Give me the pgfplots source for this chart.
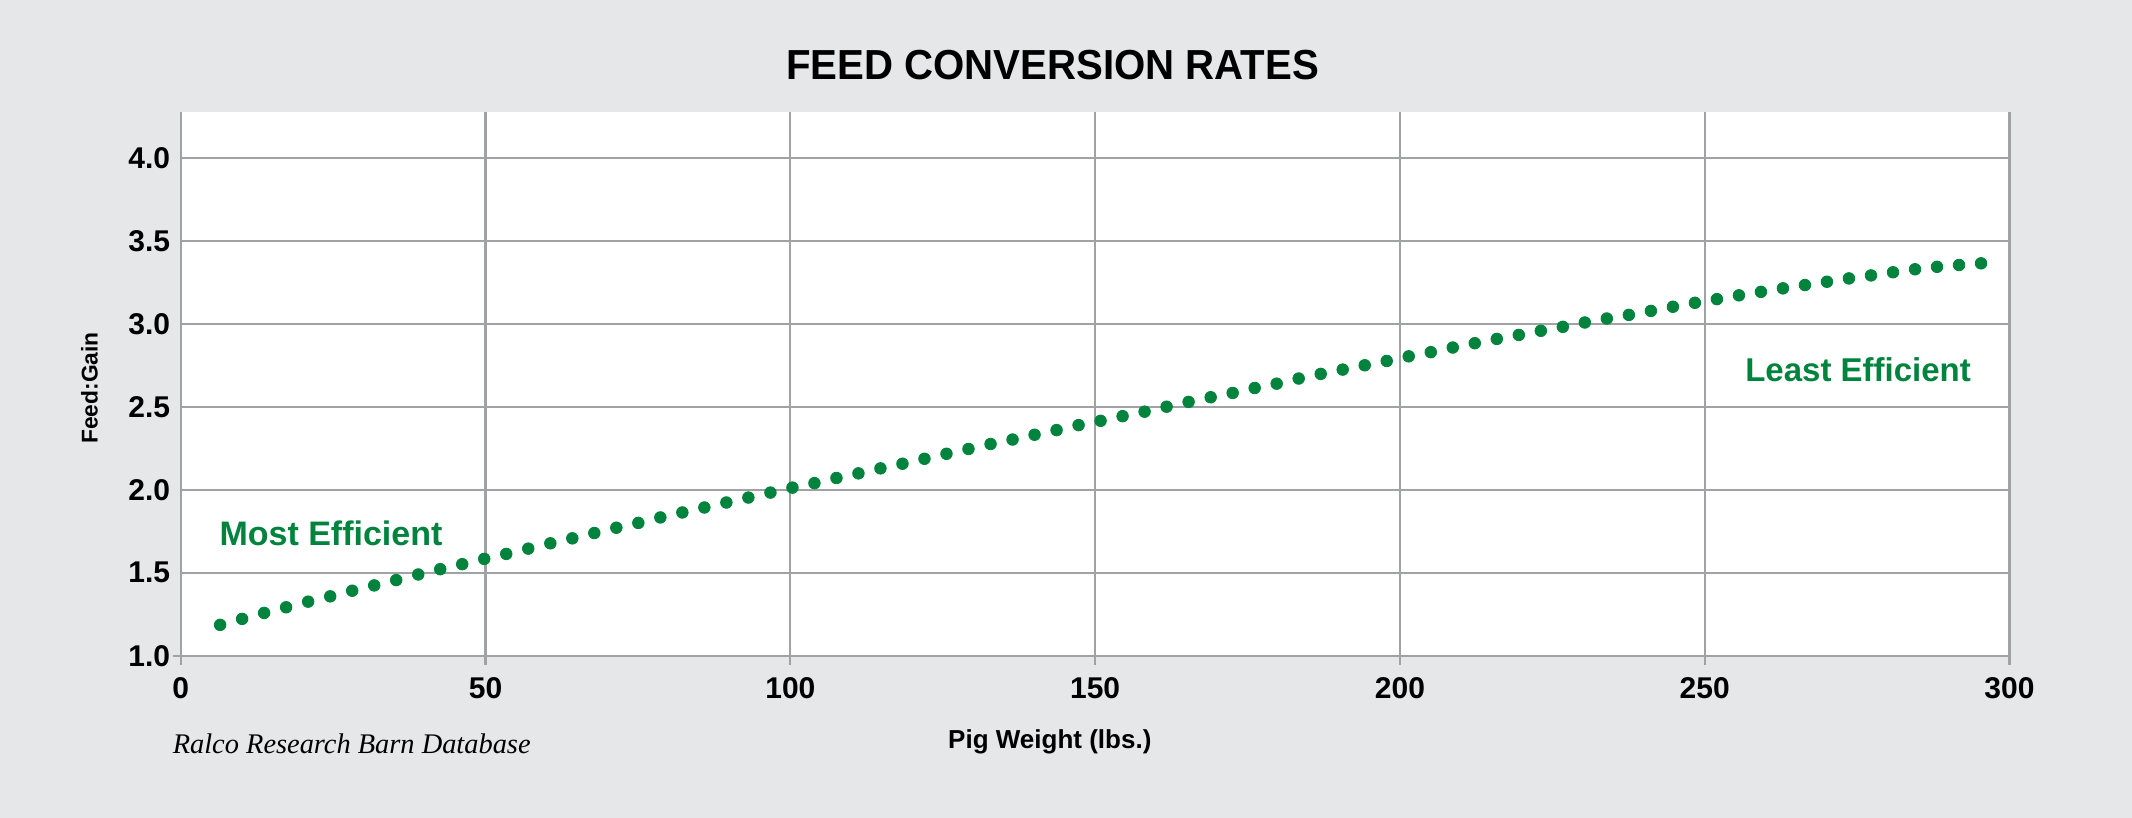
\documentclass[border=0pt]{standalone}
\usepackage{fontspec}
\setmainfont{Liberation Sans}
\newfontfamily\notefont{Liberation Serif}
\usepackage{graphicx}
\usepackage{pgfplots}
\pgfplotsset{compat=1.18}

\definecolor{bg}{HTML}{E6E7E8}
\definecolor{gridgray}{HTML}{A0A2A5}
\definecolor{feedgreen}{HTML}{00843D}

% Feed:Gain ratio by pig weight (lbs.)
\pgfplotstableread{
w      fg
6.45   1.186
10.06  1.222
13.67  1.258
17.28  1.292
20.89  1.326
24.51  1.358
28.12  1.392
31.73  1.424
35.34  1.456
38.95  1.490
42.56  1.522
46.17  1.552
49.78  1.584
53.39  1.614
57.00  1.646
60.62  1.678
64.23  1.708
67.84  1.740
71.45  1.772
75.06  1.801
78.67  1.834
82.28  1.864
85.89  1.894
89.50  1.924
93.11  1.954
96.73  1.984
100.34 2.014
103.95 2.041
107.56 2.072
111.17 2.100
114.78 2.130
118.39 2.158
122.00 2.188
125.61 2.218
129.22 2.247
132.84 2.277
136.45 2.304
140.06 2.333
143.67 2.361
147.28 2.391
150.89 2.417
154.50 2.445
158.11 2.472
161.72 2.502
165.33 2.531
168.95 2.559
172.56 2.585
176.17 2.615
179.78 2.641
183.39 2.672
187.00 2.700
190.61 2.726
194.22 2.752
197.83 2.778
201.44 2.806
205.06 2.831
208.67 2.859
212.28 2.885
215.89 2.911
219.50 2.935
223.11 2.960
226.72 2.984
230.33 3.010
233.94 3.034
237.55 3.056
241.17 3.080
244.78 3.105
248.39 3.129
252.00 3.151
255.61 3.174
259.22 3.195
262.83 3.216
266.44 3.236
270.05 3.256
273.66 3.276
277.28 3.294
280.89 3.313
284.50 3.331
288.11 3.346
291.72 3.357
295.33 3.367
}\fcrdata

\begin{document}
\begin{tikzpicture}[x=1pt,y=1pt]
\fill[bg] (0,0) rectangle (1066,409);
\begin{axis}[
  at={(90.4pt,81.15pt)}, anchor=south west,
  scale only axis, width=914.35pt, height=271.85pt,
  xmin=0, xmax=300, ymin=1, ymax=4.28,
  axis background/.style={fill=white},
  axis x line=bottom, axis y line=left,
  x axis line style={draw=gridgray, line width=1.1pt, -, shorten <=-4pt},
  y axis line style={draw=none, -},
  xtick={0,50,...,300}, ytick={1,1.5,...,4},
  grid=major, major grid style={gridgray, line width=1.1pt},
  tick align=outside, major tick length=4.5pt,
  xtick style={gridgray, line width=1.1pt},
  ytick style={draw=none},
  ticklabel style={font=\fontsize{15}{18}\selectfont\bfseries},
  /pgf/number format/assume math mode=true,
  y tick label style={xshift=2.7pt, /pgf/number format/.cd, fixed, fixed zerofill, precision=1, /tikz/.cd},
  x tick label style={yshift=-2.7pt, /pgf/number format/.cd, fixed, precision=0, /tikz/.cd},
  clip=false,
]
\addplot[only marks, mark=*, mark size=2.9pt, color=feedgreen,
  mark options={draw=feedgreen, fill=feedgreen}] table[x=w, y=fg] {\fcrdata};

\node[anchor=base west, text=feedgreen, font=\fontsize{17}{20}\selectfont\bfseries]
  at (axis cs:5.2,1.664) {Most Efficient};
\node[anchor=base west, text=feedgreen, font=\fontsize{16.5}{20}\selectfont\bfseries]
  at (axis cs:255.5,2.657) {Least Efficient};
\end{axis}

\node[anchor=base, font=\fontsize{21}{24}\selectfont\bfseries] at (526.3,369.35) {\scalebox{0.957}[1]{FEED CONVERSION RATES}};
\node[anchor=base, font=\fontsize{13}{16}\selectfont\bfseries] at (524.9,34.8) {Pig Weight (lbs.)};
\node[rotate=90, anchor=center, font=\fontsize{11.4}{14}\selectfont\bfseries] at (44.75,215) {Feed:Gain};
\node[anchor=base west, inner sep=0pt, font=\fontsize{14.2}{17}\selectfont\notefont\itshape] at (86.2,32) {Ralco Research Barn Database};
\end{tikzpicture}
\end{document}
